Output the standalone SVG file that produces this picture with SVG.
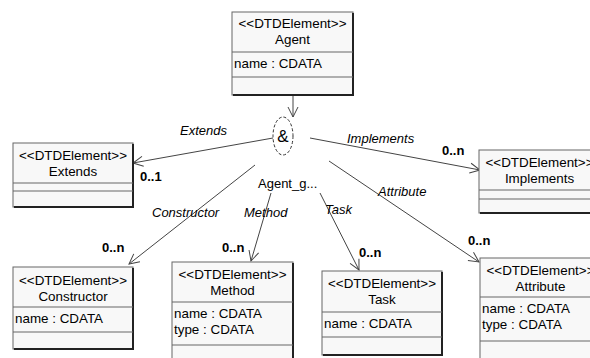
<svg xmlns="http://www.w3.org/2000/svg" width="590" height="358" viewBox="0 0 590 358">
<defs>
<style>
text{font-family:"Liberation Sans",Arial,sans-serif;font-size:13px;fill:#000}
.n text{font-size:13.4px}
.c{text-anchor:middle}
.i{font-style:italic}
.b{font-weight:bold}
.box{fill:#f8f8f8;stroke:#666;stroke-width:1}
.sh{fill:none;stroke:#222;stroke-width:2}
.div{stroke:#666;stroke-width:1}
.con{fill:none;stroke:#444;stroke-width:1}
</style>
<marker id="open" viewBox="-11 -6 12 12" markerWidth="12" markerHeight="12" refX="0" refY="0" orient="auto" markerUnits="userSpaceOnUse">
<path d="M-10,-5 L0,0 L-10,5" fill="none" stroke="#444" stroke-width="1"/>
</marker>
</defs>
<rect width="590" height="358" fill="#fff"/>

<g id="connectors">
<line class="con" x1="293" y1="95" x2="293" y2="117" marker-end="url(#open)"/>
<line class="con" x1="273" y1="138" x2="133" y2="163" marker-end="url(#open)"/>
<line class="con" x1="310" y1="138" x2="480" y2="170" marker-end="url(#open)"/>
<line class="con" x1="255" y1="165" x2="129" y2="264" marker-end="url(#open)"/>
<line class="con" x1="271" y1="193" x2="251" y2="261" marker-end="url(#open)"/>
<line class="con" x1="320" y1="193" x2="359" y2="270" marker-end="url(#open)"/>
<line class="con" x1="329" y1="161" x2="479" y2="262" marker-end="url(#open)"/>
<text class="i" x="180" y="135">Extends</text>
<text class="b" x="140" y="181">0..1</text>
<text class="i" x="347" y="143">Implements</text>
<text class="b" x="442" y="155">0..n</text>
<text x="258" y="188">Agent_g...</text>
<text class="i" x="152" y="217">Constructor</text>
<text class="i" x="244" y="217">Method</text>
<text class="i" x="325" y="214">Task</text>
<text class="i" x="378" y="196">Attribute</text>
<text class="b" x="102" y="252">0..n</text>
<text class="b" x="222" y="252">0..n</text>
<text class="b" x="359" y="257">0..n</text>
<text class="b" x="468" y="245">0..n</text>
</g>

<g id="and">
<ellipse cx="283" cy="136" rx="10" ry="19" fill="#fff" stroke="#333" stroke-dasharray="3,2"/>
<text class="c" x="283" y="142" style="font-size:17px">&amp;</text>
</g>

<g id="agent" class="n">
<rect class="box" x="232" y="12" width="121" height="83"/>
<path class="sh" d="M233,95 H353 V13"/>
<line class="div" x1="232" y1="52" x2="353" y2="52"/>
<line class="div" x1="232" y1="77" x2="353" y2="77"/>
<text class="c" x="292.5" y="28">&lt;&lt;DTDElement&gt;&gt;</text>
<text class="c" x="292.5" y="44">Agent</text>
<text x="234" y="68">name : CDATA</text>
</g>

<g id="extends" class="n">
<rect class="box" x="13" y="143" width="120" height="64"/>
<path class="sh" d="M14,207 H133 V144"/>
<line class="div" x1="13" y1="183" x2="133" y2="183"/>
<line class="div" x1="13" y1="191" x2="133" y2="191"/>
<text class="c" x="73" y="160">&lt;&lt;DTDElement&gt;&gt;</text>
<text class="c" x="73" y="176">Extends</text>
</g>

<g id="implements" class="n">
<rect class="box" x="479" y="150" width="121" height="63"/>
<path class="sh" d="M480,213 H600 V151"/>
<line class="div" x1="479" y1="190" x2="600" y2="190"/>
<line class="div" x1="479" y1="199" x2="600" y2="199"/>
<text class="c" x="539.5" y="167">&lt;&lt;DTDElement&gt;&gt;</text>
<text class="c" x="539.5" y="183">Implements</text>
</g>

<g id="constructor" class="n">
<rect class="box" x="13" y="267" width="120" height="82"/>
<path class="sh" d="M14,349 H133 V268"/>
<line class="div" x1="13" y1="307" x2="133" y2="307"/>
<line class="div" x1="13" y1="332" x2="133" y2="332"/>
<text class="c" x="73" y="285">&lt;&lt;DTDElement&gt;&gt;</text>
<text class="c" x="73" y="301">Constructor</text>
<text x="15" y="323">name : CDATA</text>
</g>

<g id="method" class="n">
<rect class="box" x="172" y="262" width="121" height="100"/>
<path class="sh" d="M173,362 H293 V263"/>
<line class="div" x1="172" y1="302" x2="293" y2="302"/>
<line class="div" x1="172" y1="345" x2="293" y2="345"/>
<text class="c" x="232.5" y="279">&lt;&lt;DTDElement&gt;&gt;</text>
<text class="c" x="232.5" y="295">Method</text>
<text x="174" y="318">name : CDATA</text>
<text x="174" y="334">type : CDATA</text>
</g>

<g id="task" class="n">
<rect class="box" x="322" y="271" width="120" height="84"/>
<path class="sh" d="M323,355 H442 V272"/>
<line class="div" x1="322" y1="312" x2="442" y2="312"/>
<line class="div" x1="322" y1="337" x2="442" y2="337"/>
<text class="c" x="382" y="288">&lt;&lt;DTDElement&gt;&gt;</text>
<text class="c" x="382" y="304">Task</text>
<text x="324" y="328">name : CDATA</text>
</g>

<g id="attribute" class="n">
<rect class="box" x="480" y="258" width="121" height="104"/>
<path class="sh" d="M481,362 H601 V259"/>
<line class="div" x1="480" y1="297" x2="601" y2="297"/>
<line class="div" x1="480" y1="341" x2="601" y2="341"/>
<text class="c" x="540.5" y="275">&lt;&lt;DTDElement&gt;&gt;</text>
<text class="c" x="540.5" y="291">Attribute</text>
<text x="482" y="313">name : CDATA</text>
<text x="482" y="329">type : CDATA</text>
</g>
</svg>
